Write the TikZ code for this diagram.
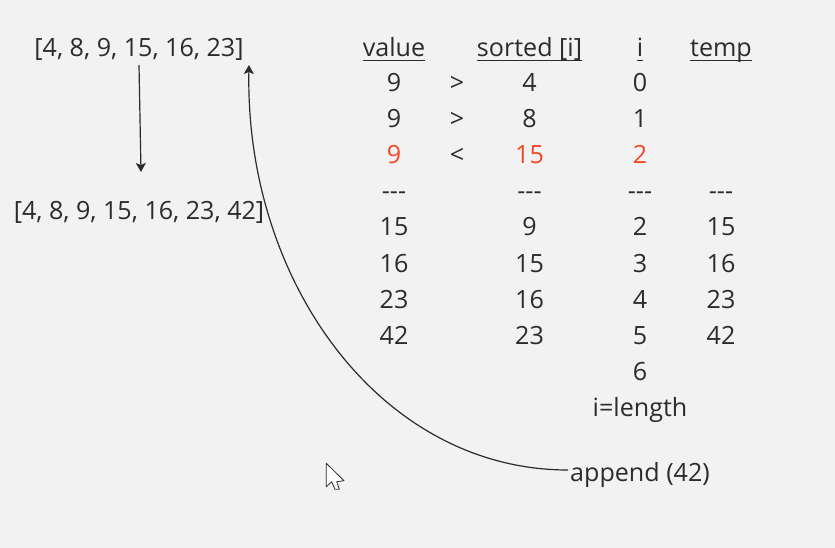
\documentclass[tikz,border=0pt]{standalone}
\usepackage{fontspec}
\setmainfont{Open Sans}[Ligatures=NoCommon]
\usetikzlibrary{arrows.meta}
\definecolor{bg}{HTML}{F2F2F2}
\definecolor{ink}{HTML}{2B2B2B}
\definecolor{hot}{HTML}{F24726}
\tikzset{
  x=1pt,y=-1pt,
  txt/.style={text=ink,font=\fontsize{25.1}{28}\selectfont,inner sep=0pt,anchor=base},
  hotx/.style={txt,text=hot},
  conn/.style={draw=ink,line width=1.2pt,-{Stealth[length=9pt,width=10pt,inset=2pt]}},
}
\newcommand{\ul}[1]{\setbox0=\hbox{#1}\rlap{\rule[-4.2pt]{\wd0}{1.4pt}}\box0}
\newcommand{\dsh}{-{}-{}-}
\begin{document}
\begin{tikzpicture}
\useasboundingbox[fill=bg] (0,0) rectangle (835,548);
\node[txt] (a1) at (139,57) {[4, 8, 9, 15, 16, 23]};
\node[txt] (a2) at (139,219) {[4, 8, 9, 15, 16, 23, 42]};
\node[txt] (app) at (640,481) {append (42)};
\coordinate (s1) at (139,65);
\coordinate (e1) at (141,172);
\coordinate (s2) at (568,470);
\coordinate (e2) at (249,65);
\draw[conn] (s1) -- (e1);
\draw[conn] (s2) .. controls (380,470) and (245,281) .. (e2);
% header
\node[txt] (h1) at (394,57) {\ul{value}};
\node[txt] (h2) at (529.5,57) {\ul{sorted [i]}};
\node[txt] (h3) at (640,57) {\ul{i}};
\node[txt] (h4) at (721,57) {\ul{temp}};
\foreach \n/\y/\a/\o/\b/\c/\d in {
 r1/92/9/>/4/0/,
 r2/128/9/>/8/1/,
 r4/200/\dsh//\dsh/\dsh/\dsh,
 r5/236/15//9/2/15,
 r6/272/16//15/3/16,
 r7/308/23//16/4/23,
 r8/344/42//23/5/42,
 r9/380////6/}{
  \node[txt] (\n a) at (394,\y) {\a};
  \node[txt] (\n o) at (457,\y) {\o};
  \node[txt] (\n b) at (529.5,\y) {\b};
  \node[txt] (\n c) at (640,\y) {\c};
  \node[txt] (\n d) at (721,\y) {\d};
}
\node[hotx] (r3a) at (394,164) {9};
\node[txt] (r3o) at (457,164) {<};
\node[hotx] (r3b) at (529.5,164) {15};
\node[hotx] (r3c) at (640,164) {2};
\node[txt] (il) at (640,416) {i=length};
% cursor
\draw[draw=ink,fill=white,line width=0.8pt,line join=round] (326.3,463.3) -- (326.3,486.7) -- (331.7,481.7) -- (335,489.3) -- (339.3,489.3) -- (336.7,481.7) -- (344,480.7) -- cycle;
\end{tikzpicture}
\end{document}
